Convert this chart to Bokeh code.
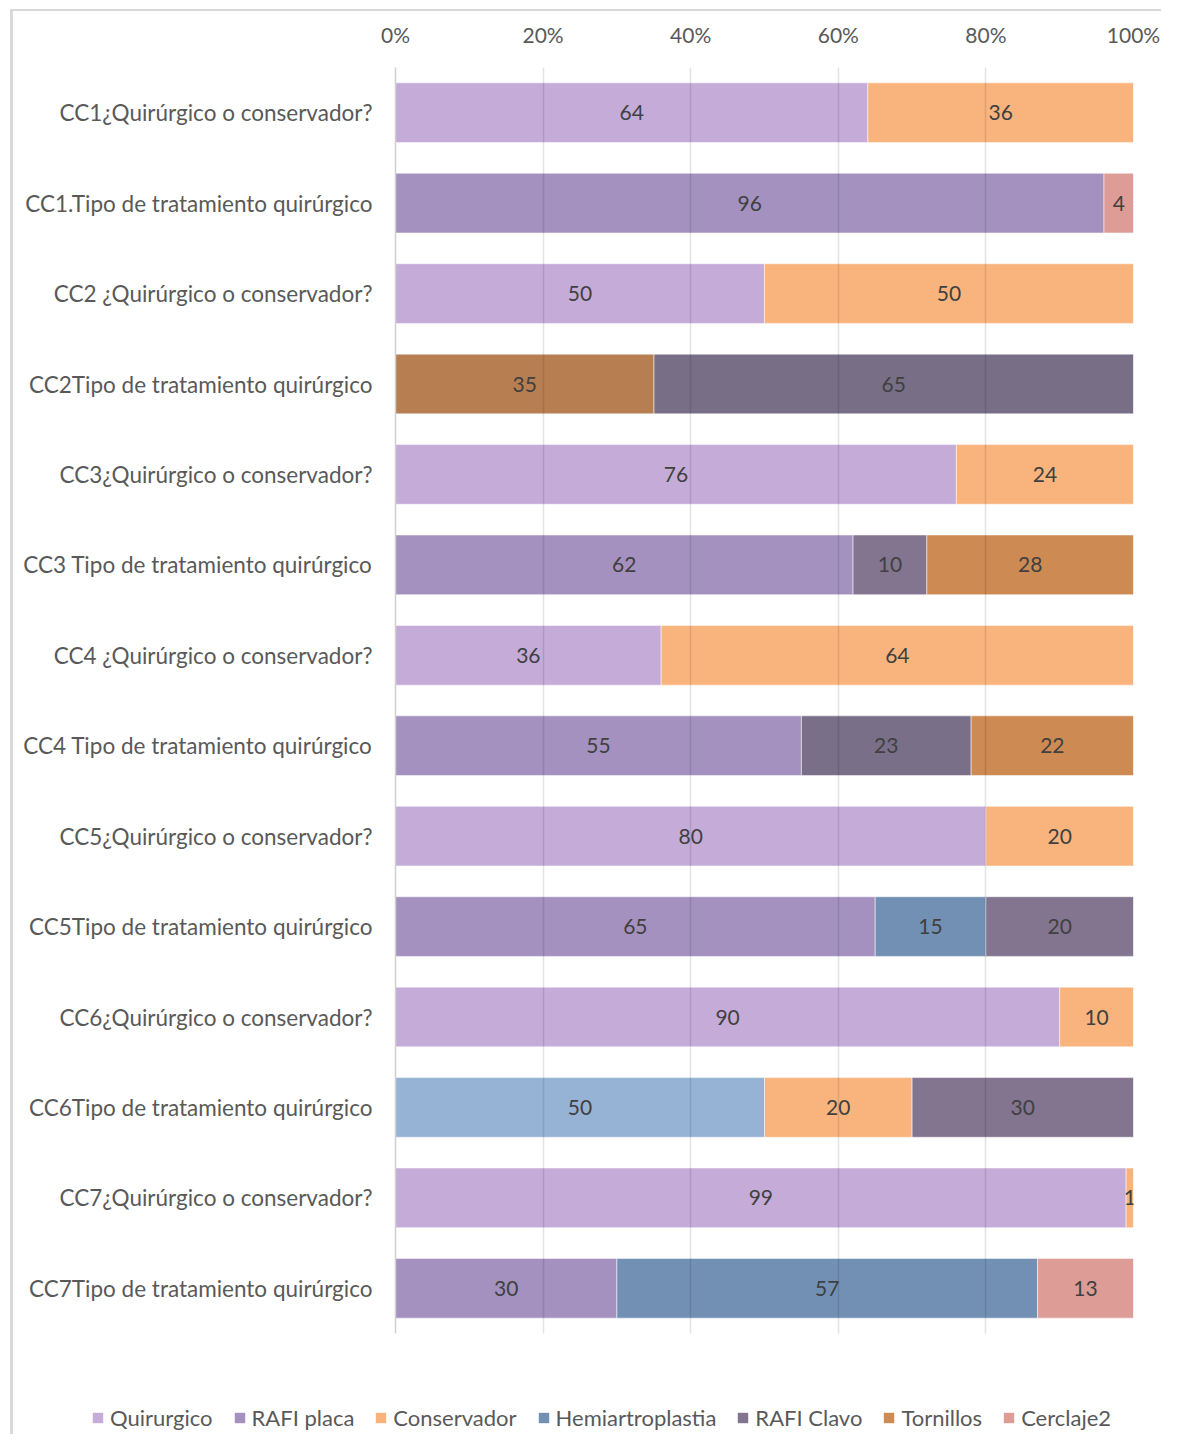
from bokeh.plotting import figure
from bokeh.layouts import column
from bokeh.models import (ColumnDataSource, FactorRange, Range1d, NumeralTickFormatter,
                          FixedTicker, Legend, LegendItem)
from bokeh.core.properties import value
from bokeh.embed import file_html
from bokeh.resources import INLINE

# ---------------- data ----------------
categories = [
    "CC1¿Quirúrgico o conservador?",
    "CC1.Tipo de tratamiento quirúrgico",
    "CC2 ¿Quirúrgico o conservador?",
    "CC2Tipo de tratamiento quirúrgico",
    "CC3¿Quirúrgico o conservador?",
    "CC3 Tipo de tratamiento quirúrgico",
    "CC4 ¿Quirúrgico o conservador?",
    "CC4 Tipo de tratamiento quirúrgico",
    "CC5¿Quirúrgico o conservador?",
    "CC5Tipo de tratamiento quirúrgico",
    "CC6¿Quirúrgico o conservador?",
    "CC6Tipo de tratamiento quirúrgico",
    "CC7¿Quirúrgico o conservador?",
    "CC7Tipo de tratamiento quirúrgico",
]

row_series = [
    ["Quirurgico", "Conservador"],
    ["RAFI placa", "Cerclaje2"],
    ["Quirurgico", "Conservador"],
    ["Tornillos", "RAFI Clavo"],
    ["Quirurgico", "Conservador"],
    ["RAFI placa", "RAFI Clavo", "Tornillos"],
    ["Quirurgico", "Conservador"],
    ["RAFI placa", "RAFI Clavo", "Tornillos"],
    ["Quirurgico", "Conservador"],
    ["RAFI placa", "Hemiartroplastia", "RAFI Clavo"],
    ["Quirurgico", "Conservador"],
    ["Hemiartroplastia", "Conservador", "RAFI Clavo"],
    ["Quirurgico", "Conservador"],
    ["RAFI placa", "Hemiartroplastia", "Cerclaje2"],
]

row_values = [
    [64, 36],
    [96, 4],
    [50, 50],
    [35, 65],
    [76, 24],
    [62, 10, 28],
    [36, 64],
    [55, 23, 22],
    [80, 20],
    [65, 15, 20],
    [90, 10],
    [50, 20, 30],
    [99, 1],
    [30, 57, 13],
]

legend_series = ["Quirurgico", "RAFI placa", "Conservador", "Hemiartroplastia",
                 "RAFI Clavo", "Tornillos", "Cerclaje2"]

x_ticks = [0, 0.2, 0.4, 0.6, 0.8, 1.0]

# ---------------- styles ----------------
series_colors = {
    "Quirurgico": "#C5ACD8",
    "RAFI placa": "#A491BF",
    "Conservador": "#F9B47E",
    "Hemiartroplastia": "#7290B4",
    "RAFI Clavo": "#837590",
    "Tornillos": "#CD8A52",
    "Cerclaje2": "#DE9C97",
}
shade_overrides = {
    ("CC2Tipo de tratamiento quirúrgico", "Tornillos"): "#B77F51",
    ("CC2Tipo de tratamiento quirúrgico", "RAFI Clavo"): "#786F86",
    ("CC4 Tipo de tratamiento quirúrgico", "RAFI Clavo"): "#7A6F88",
    ("CC6Tipo de tratamiento quirúrgico", "Hemiartroplastia"): "#96B3D6",
}

FONT = "Lato"
TEXT_COLOR = "#595959"
LABEL_COLOR = "#404040"

# ---------------- build segments ----------------
seg = {s: dict(y=[], left=[], right=[], color=[]) for s in legend_series}
lab = dict(x=[], y=[], text=[])
for cat, names, vals in zip(categories, row_series, row_values):
    acc = 0.0
    for name, v in zip(names, vals):
        l, r = acc / 100.0, (acc + v) / 100.0
        d = seg[name]
        d["y"].append(cat)
        d["left"].append(l)
        d["right"].append(r)
        d["color"].append(shade_overrides.get((cat, name), series_colors[name]))
        lab["x"].append((l + r) / 2)
        lab["y"].append(cat)
        lab["text"].append(str(v))
        acc += v
sources = {name: ColumnDataSource(seg[name]) for name in legend_series}

W = 1161
H_MAIN, H_LEG = 1345, 89
GRAY = "#D9D9D9"
grad = "linear-gradient(%s,%s)" % (GRAY, GRAY)
bg_main = "%s 10px 9px / 3px 100%% no-repeat, %s 10px 9px / 100%% 2px no-repeat, white" % (grad, grad)
bg_leg = "%s 10px 0px / 3px 100%% no-repeat, white" % grad

y_range = FactorRange(*reversed(categories), range_padding=0)

p = figure(
    width=W, height=H_MAIN,
    y_range=y_range,
    x_range=Range1d(0, 1),
    x_axis_location="above",
    output_backend="svg", toolbar_location=None,
    min_border_left=395, min_border_right=28, min_border_top=67, min_border_bottom=12,
    styles={"background": bg_main},
)
p.outline_line_color = None
p.background_fill_alpha = 0
p.border_fill_alpha = 0

for name in legend_series:
    p.hbar(y="y", left="left", right="right", height=0.66, source=sources[name],
           fill_color="color", line_color="white", line_alpha=0.5, line_width=1)

p.text(x="x", y="y", text="text", source=ColumnDataSource(lab),
       text_align="center", text_baseline="middle", text_font=value(FONT),
       text_font_size="21px", text_color=LABEL_COLOR)

# axes
xa = p.xaxis[0]
xa.ticker = FixedTicker(ticks=x_ticks)
xa.formatter = NumeralTickFormatter(format="0%")
xa.axis_line_color = None
xa.major_tick_line_color = None
xa.minor_tick_line_color = None
xa.major_tick_out = 0
xa.major_label_standoff = 21
xa.major_label_text_font = FONT
xa.major_label_text_font_size = "21px"
xa.major_label_text_color = TEXT_COLOR

ya = p.yaxis[0]
ya.axis_line_color = "#D0D0D0"
ya.axis_line_width = 1.5
ya.major_tick_line_color = None
ya.minor_tick_line_color = None
ya.major_tick_out = 0
ya.major_label_standoff = 23
ya.major_label_text_font = FONT
ya.major_label_text_font_size = "22.5px"
ya.major_label_text_color = TEXT_COLOR

p.ygrid.grid_line_color = None
p.xgrid.ticker = FixedTicker(ticks=x_ticks)
p.xgrid.grid_line_color = "black"
p.xgrid.grid_line_alpha = 0.11
p.xgrid.grid_line_width = 1.5
p.xgrid.level = "overlay"

# ---------------- legend strip (bars kept out of view; only the legend shows) ----------------
pl = figure(
    width=W, height=H_LEG, y_range=y_range, x_range=Range1d(-6, -5),
    x_axis_type=None, y_axis_type=None,
    output_backend="svg", toolbar_location=None, min_border=0,
    styles={"background": bg_leg},
)
pl.outline_line_color = None
pl.background_fill_alpha = 0
pl.border_fill_alpha = 0
for plot in (p, pl):
    try:
        plot.frame_align = False
    except Exception:
        pass

items = []
for name in legend_series:
    r = pl.hbar(y="y", left="left", right="right", height=0.66, source=sources[name],
                fill_color="color", line_color=None)
    cols = seg[name]["color"]
    idx = cols.index(series_colors[name]) if series_colors[name] in cols else 0
    items.append(LegendItem(label=name, renderers=[r], index=idx))
legend = Legend(items=items, orientation="horizontal", location=(91, 3),
                label_text_font=FONT, label_text_font_size="22px",
                label_text_color=TEXT_COLOR, glyph_width=13, glyph_height=13,
                label_standoff=6, spacing=20, padding=0, margin=0,
                border_line_color=None, background_fill_alpha=0)
pl.add_layout(legend, "center")

layout = column(p, pl, spacing=0)
open("out.html", "w").write(file_html(layout, INLINE))
